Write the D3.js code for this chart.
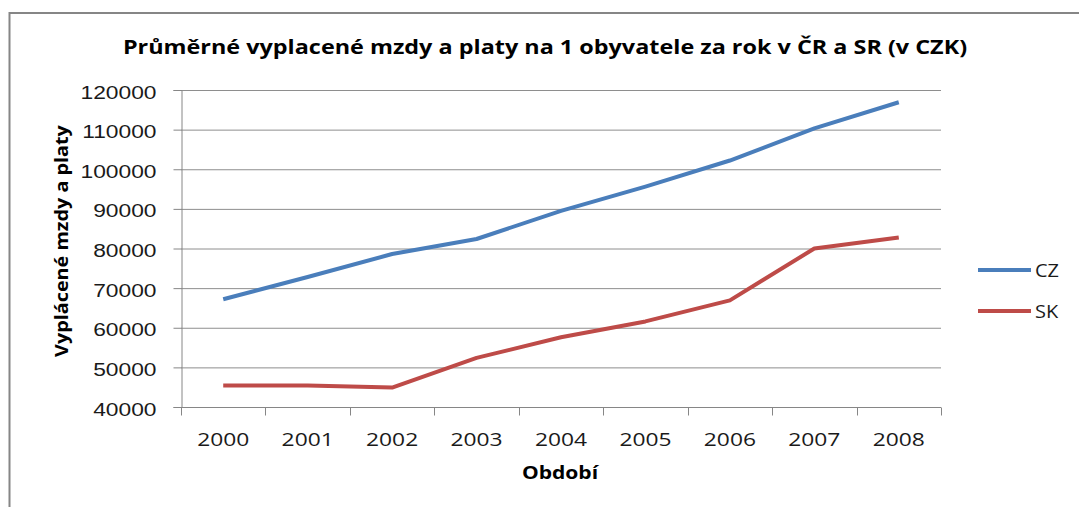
<!DOCTYPE html>
<html>
<head>
<meta charset="utf-8">
<script src="https://cdn.jsdelivr.net/npm/d3@7"></script>
<style>
  body { margin: 0; background: #fff; }
  svg { display: block; font-family: "Open Sans", Lato, sans-serif; }
</style>
</head>
<body>
<div id="chart"></div>
<script>
const years = ['2000', '2001', '2002', '2003', '2004', '2005', '2006', '2007', '2008'];
const czValues = [67200, 72800, 78600, 82400, 89500, 95600, 102200, 110300, 116900];
const skValues = [45400, 45400, 44900, 52400, 57600, 61600, 66900, 80000, 82800];
const yTicks = [40000, 50000, 60000, 70000, 80000, 90000, 100000, 110000, 120000];
const seriesNames = ['CZ', 'SK'];
const seriesColors = ['#4a7ebb', '#be4b48'];

const width = 1079, height = 507;
const margin = { top: 90, right: 138, bottom: 100, left: 181 };
const stretch = 1.2; // the original font runs wide

const svg = d3.select('#chart').append('svg')
  .attr('width', width).attr('height', height);

// outer chart border
svg.append('rect')
  .attr('x', 9.5).attr('y', 13).attr('width', width + 10).attr('height', height + 10)
  .attr('fill', 'none').attr('stroke', '#868686').attr('stroke-width', 2);

const x = d3.scaleBand().domain(years)
  .range([margin.left, width - margin.right]);
const y = d3.scaleLinear().domain([40000, 120000])
  .range([height - margin.bottom, margin.top]);

// gridlines
svg.append('g').selectAll('line').data(yTicks.slice(1)).join('line')
  .attr('x1', margin.left).attr('x2', width - margin.right)
  .attr('y1', d => y(d) + 0.5).attr('y2', d => y(d) + 0.5)
  .attr('stroke', '#8e8e8e').attr('stroke-width', 1);

// y axis
const yAxis = svg.append('g')
  .attr('transform', `translate(${margin.left + 0.5},0)`)
  .call(d3.axisLeft(y).tickValues(yTicks).tickSize(8).tickFormat(d3.format('d')));
yAxis.select('.domain').attr('stroke', '#868686');
yAxis.selectAll('.tick line').attr('stroke', '#868686');
yAxis.selectAll('text')
  .attr('x', 0).attr('y', 2)
  .attr('transform', `translate(-25,0) scale(${stretch},1)`)
  .attr('font-size', 19).attr('fill', '#1a1a1a');

// x axis with ticks between categories
const xAxisG = svg.append('g')
  .attr('transform', `translate(0,${y(40000) + 0.5})`);
xAxisG.append('line')
  .attr('x1', margin.left).attr('x2', width - margin.right)
  .attr('stroke', '#868686');
const bounds = years.map(d => x(d)).concat([x(years[years.length - 1]) + x.bandwidth()]);
xAxisG.selectAll('.sep').data(bounds).join('line')
  .attr('class', 'sep')
  .attr('x1', d => Math.round(d) + 0.5).attr('x2', d => Math.round(d) + 0.5)
  .attr('y1', 0).attr('y2', 8)
  .attr('stroke', '#868686');
xAxisG.selectAll('text').data(years).join('text')
  .attr('transform', d => `translate(${x(d) + x.bandwidth() / 2},38) scale(${stretch},1)`)
  .attr('text-anchor', 'middle')
  .attr('font-size', 19).attr('fill', '#1a1a1a')
  .text(d => d);

// lines
const line = d3.line()
  .x((d, i) => x(years[i]) + x.bandwidth() / 2)
  .y(d => y(d));

[czValues, skValues].forEach((vals, i) => {
  svg.append('path')
    .datum(vals)
    .attr('d', line)
    .attr('fill', 'none')
    .attr('stroke', seriesColors[i])
    .attr('stroke-width', 4)
    .attr('stroke-linejoin', 'round');
});

// title
svg.append('text')
  .attr('transform', 'translate(545,54) scale(1.17,1)')
  .attr('text-anchor', 'middle')
  .attr('font-size', 20).attr('font-weight', 'bold').attr('fill', '#000')
  .text('Průměrné vyplacené mzdy a platy na 1 obyvatele za rok v ČR a SR (v CZK)');

// axis titles
svg.append('text')
  .attr('transform', 'translate(68,241) rotate(-90) scale(1.1,1)')
  .attr('text-anchor', 'middle')
  .attr('font-size', 18).attr('font-weight', 'bold').attr('fill', '#000')
  .text('Vyplácené mzdy a platy');

svg.append('text')
  .attr('transform', 'translate(560,479) scale(1.17,1)')
  .attr('text-anchor', 'middle')
  .attr('font-size', 18).attr('font-weight', 'bold').attr('fill', '#000')
  .text('Období');

// legend
const legend = svg.append('g').selectAll('g').data(seriesNames).join('g')
  .attr('transform', (d, i) => `translate(978,${270 + i * 41})`);
legend.append('line')
  .attr('x1', 0).attr('x2', 53)
  .attr('stroke', (d, i) => seriesColors[i]).attr('stroke-width', 4);
legend.append('text')
  .attr('transform', 'translate(57,7) scale(1.05,1)')
  .attr('font-size', 19).attr('fill', '#1a1a1a')
  .text(d => d);
</script>
</body>
</html>
